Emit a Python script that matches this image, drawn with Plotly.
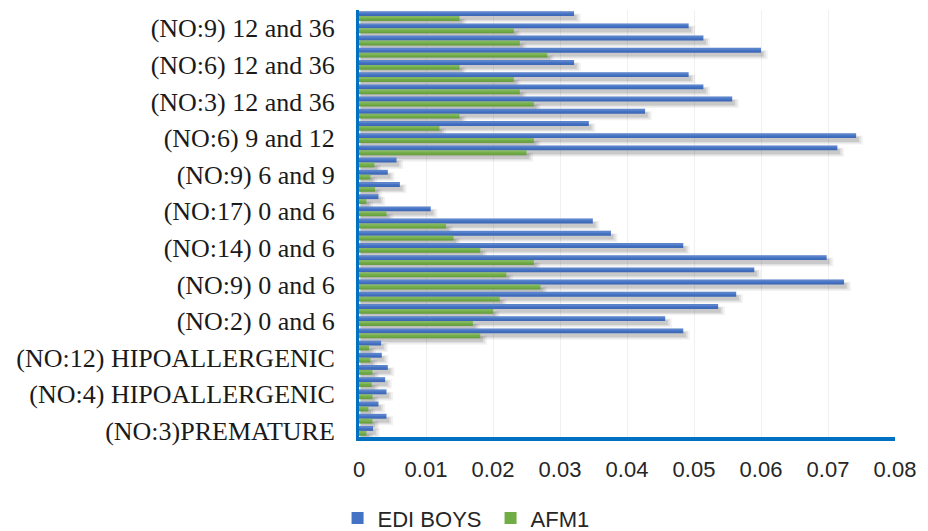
import numpy as np
import plotly.graph_objects as go

# ---- data (categories listed bottom -> top) ----
tick_labels = [
    "(NO:3)PREMATURE",
    "(NO:4) HIPOALLERGENIC",
    "(NO:12) HIPOALLERGENIC",
    "(NO:2) 0 and 6",
    "(NO:9) 0 and 6",
    "(NO:14) 0 and 6",
    "(NO:17) 0 and 6",
    "(NO:9) 6 and 9",
    "(NO:6) 9 and 12",
    "(NO:3) 12 and 36",
    "(NO:6) 12 and 36",
    "(NO:9) 12 and 36",
]

edi_boys = [0.0021, 0.0041, 0.0029, 0.0041, 0.0039, 0.0043, 0.0034, 0.0033,
            0.0484, 0.0457, 0.0536, 0.0563, 0.0724, 0.0590, 0.0698, 0.0484,
            0.0376, 0.0349, 0.0107, 0.0029, 0.0061, 0.0043, 0.0056, 0.0714,
            0.0742, 0.0343, 0.0427, 0.0557, 0.0514, 0.0492, 0.0321, 0.0600,
            0.0514, 0.0492, 0.0321]

afm1 = [0.0011, 0.0020, 0.0014, 0.0020, 0.0019, 0.0020, 0.0017, 0.0015,
        0.0181, 0.0170, 0.0200, 0.0210, 0.0271, 0.0220, 0.0261, 0.0181,
        0.0141, 0.0130, 0.0041, 0.0011, 0.0024, 0.0017, 0.0023, 0.0250,
        0.0261, 0.0120, 0.0150, 0.0261, 0.0240, 0.0231, 0.0150, 0.0281,
        0.0240, 0.0231, 0.0150]

series_names = ["EDI BOYS", "AFM1"]
series_colors = ["#4472C4", "#70AD47"]

n = len(edi_boys)
pos = np.arange(n)
label_pos = pos[::3]

BAR_W = 0.4
offsets = [0.0, -BAR_W]          # EDI BOYS above, AFM1 below
series_vals = [edi_boys, afm1]

fig = go.Figure()

# soft drop shadows (several translucent layers)
shadow_layers = [  # (down shift, extra height, extra x, opacity)
    (0.36, 0.34, 0.0008, 0.05),
    (0.33, 0.18, 0.0005, 0.07),
    (0.30, 0.04, 0.0002, 0.10),
]
for vals, off in zip(series_vals, offsets):
    v = np.array(vals)
    for shift, grow, gx, op in shadow_layers:
        fig.add_trace(go.Bar(
            y=pos, x=v + gx, base=0.0002, orientation="h",
            offset=off - shift - grow / 2, width=BAR_W + grow,
            marker=dict(color=f"rgba(0,0,0,{op})", line_width=0),
            showlegend=False, hoverinfo="skip"))

# main bars
for name, vals, off, col in zip(series_names, series_vals, offsets, series_colors):
    fig.add_trace(go.Bar(
        y=pos, x=vals, orientation="h", name=name,
        offset=off, width=BAR_W,
        marker=dict(color=col, line_width=0)))

# subtle bevel: lighter top strip, darker bottom strip
for vals, off in zip(series_vals, offsets):
    fig.add_trace(go.Bar(
        y=pos, x=vals, orientation="h", offset=off + BAR_W * 0.6, width=BAR_W * 0.4,
        marker=dict(color="rgba(255,255,255,0.13)", line_width=0),
        showlegend=False, hoverinfo="skip"))
    fig.add_trace(go.Bar(
        y=pos, x=vals, orientation="h", offset=off, width=BAR_W * 0.3,
        marker=dict(color="rgba(0,0,0,0.07)", line_width=0),
        showlegend=False, hoverinfo="skip"))

fig.update_layout(
    width=928, height=531,
    margin=dict(l=359, r=33, t=10, b=94, autoexpand=False),
    paper_bgcolor="white", plot_bgcolor="white",
    barmode="overlay",
    showlegend=True,
    legend=dict(orientation="h", x=-0.04, y=-0.19, xanchor="left", yanchor="middle",
                font=dict(family="Liberation Sans, Arial, sans-serif", size=22, color="#262626"),
                entrywidth=108, entrywidthmode="pixels",
                bgcolor="rgba(0,0,0,0)"),
)

fig.update_xaxes(
    range=[0, 0.08], dtick=0.01, tick0=0,
    showgrid=True, gridcolor="#F0F0F0", gridwidth=1,
    zeroline=False,
    showline=True, linecolor="#0070C0", linewidth=3.5,
    ticks="", ticklabelstandoff=10,
    tickfont=dict(family="Liberation Sans, Arial, sans-serif", size=22, color="#262626"),
)

fig.update_yaxes(
    range=[-0.5, n - 0.5],
    tickmode="array", tickvals=label_pos, ticktext=tick_labels,
    showgrid=False, zeroline=False,
    showline=True, linecolor="#0070C0", linewidth=3,
    ticks="", ticklabelstandoff=16,
    tickfont=dict(family="Liberation Serif, Times New Roman, serif", size=26, color="#1a1a1a"),
)

fig.write_html("out.html")
